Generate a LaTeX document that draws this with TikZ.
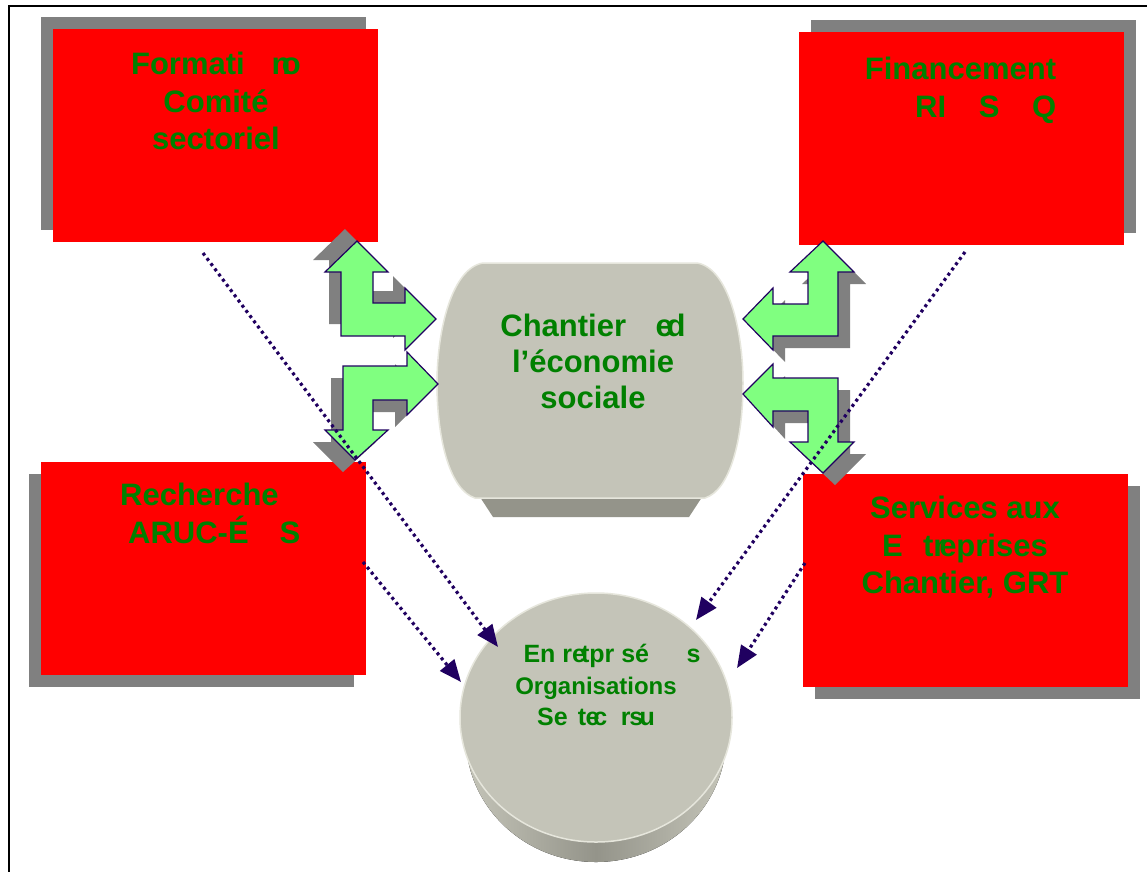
\documentclass[tikz,border=0pt]{standalone}
\usepackage{fontspec}
\setmainfont{Liberation Sans}
\usetikzlibrary{shapes.geometric,shadows,arrows.meta,positioning}

\definecolor{rouge}{RGB}{255,0,0}
\definecolor{vert}{RGB}{0,128,0}
\definecolor{vertclair}{RGB}{128,255,128}
\definecolor{ombre}{RGB}{128,128,128}
\definecolor{marine}{RGB}{32,0,96}
\definecolor{pierre}{RGB}{196,196,184}
\definecolor{pierrefonce}{RGB}{148,148,138}
\definecolor{pierreclair}{RGB}{230,230,220}

% fleches coudees (sommets en px, y vers le bas)
\newcommand{\flecheHG}{(357,241) -- (388,272) -- (373,272) -- (373,303) -- (405,303) -- (405,288) -- (436,319) -- (405,350) -- (405,336) -- (341,336) -- (341,272) -- (325,272) -- cycle}
\newcommand{\flecheBG}{(343,366) -- (407,366) -- (407,352) -- (438,384) -- (407,415) -- (407,400) -- (373,400) -- (373,430) -- (388,430) -- (355,460) -- (325,430) -- (343,430) -- cycle}
\newcommand{\flecheHD}{(823,241) -- (854,272) -- (838,272) -- (838,336) -- (773,336) -- (773,350) -- (743,319) -- (773,288) -- (773,304) -- (808,304) -- (808,272) -- (790,272) -- cycle}
\newcommand{\flecheBD}{(743,394) -- (773,364) -- (773,378) -- (838,378) -- (838,442) -- (854,442) -- (823,473) -- (790,442) -- (808,442) -- (808,411) -- (773,411) -- (773,427) -- cycle}

\begin{document}
\begin{tikzpicture}[x=1pt,y=-1pt,
  boite/.style={rectangle,fill=rouge,minimum width=325pt,minimum height=213pt,inner sep=0pt},
  txt/.style={text=vert,font=\bfseries\fontsize{31}{37.5}\selectfont,inner sep=0pt,align=center},
  fleche/.style={fill=vertclair,draw=marine,line width=1.2pt,line join=miter},
  pointille/.style={marine,line width=3.2pt,dash pattern=on 3pt off 3.5pt,-{Triangle[length=22pt,width=18pt]}}]
\useasboundingbox (0,0) rectangle (1147,871);
\fill[white] (0,0) rectangle (1147,871);
\draw[line width=2pt] (9,880) -- (9,6) -- (1160,6);

% les quatre boites
\node[boite,drop shadow={shadow xshift=-12pt,shadow yshift=12pt,fill=ombre,opacity=1}] (form) at (215.5,135.5) {};
\node[boite,drop shadow={shadow xshift=12pt,shadow yshift=12pt,fill=ombre,opacity=1}] (fin) at (961.5,138) {};
\node[boite,drop shadow={shadow xshift=-12pt,shadow yshift=-12pt,fill=ombre,opacity=1}] (rech) at (203.5,568) {};
\node[boite,drop shadow={shadow xshift=12pt,shadow yshift=-12pt,fill=ombre,opacity=1}] (serv) at (965.5,580) {};

\node[txt,anchor=north] (form-t) at (216,52) {Formati\hspace{0.87em}n\kern-0.28em o\\Comité\\sectoriel};
\node[txt,anchor=north,align=right] (fin-t) at (960.5,57) {Financement\\RI\hspace{1.05em}S\hspace{1.05em}Q};
\node[txt,anchor=north west,align=left] (rech-t) at (120,483) {Recherche\\\hspace*{8pt}ARUC-É\hspace{1em}S};
\node[txt,anchor=north] (serv-t) at (965,496) {Services aux\\E\hspace{0.65em}tr\kern-0.2em eprises\\Chantier, GRT};

% chantier
\fill[pierrefonce] (478,494) -- (704,494) -- (689,517) -- (493,517) -- cycle;
\draw[pierreclair,line width=1.5pt,fill=pierre] (483,263) -- (697,263) .. controls (728,268) and (743,330) .. (743,383) .. controls (743,440) and (730,490) .. (705,498) -- (475,498) .. controls (450,490) and (437,440) .. (437,383) .. controls (437,330) and (452,268) .. (483,263) -- cycle;
\node[txt,anchor=north,font=\bfseries\fontsize{31}{36}\selectfont] (chant-t) at (593,314) {Chantier\hspace{0.95em}e\kern-0.2em d\\l’économie\\sociale};

% entreprises
\fill[left color=pierre,right color=pierre,middle color=pierrefonce] (596,738) ellipse [x radius=130pt,y radius=124pt];
\node[ellipse,fill=pierre,draw=pierreclair,line width=1.5pt,minimum width=272pt,minimum height=249pt,inner sep=0pt] (entr) at (596,717.5) {};
\node[txt,anchor=north,font=\bfseries\fontsize{25}{31.5}\selectfont] (entr-t) at (596,644) {\hspace*{32pt}En re\kern-0.2em tpr sé\hspace{1.5em}s\\{\fontsize{24}{31}\selectfont Organisations}\\Se\hspace{0.4em}t\kern-0.02em e\kern-0.25em c\hspace{0.55em}r\kern-0.05em s\kern-0.15em u};

% fleches vertes
\fill[ombre,shift={(-12,-12)}] \flecheHG;
\fill[ombre,shift={(-12,12)}] \flecheBG;
\fill[ombre,shift={(12,12)}] \flecheHD;
\fill[ombre,shift={(12,12)}] \flecheBD;
\draw[fleche] \flecheHG;
\draw[fleche] \flecheBG;
\draw[fleche] \flecheHD;
\draw[fleche] \flecheBD;

% liens pointilles
\coordinate (form-p) at (203,253);
\coordinate (entr-a) at (498,647);
\coordinate (rech-p) at (363,562);
\coordinate (entr-b) at (461,682);
\coordinate (fin-p) at (965,252);
\coordinate (entr-c) at (696,620);
\coordinate (serv-p) at (805,563);
\coordinate (entr-d) at (737,668);
\draw[pointille] (form-p) -- (entr-a);
\draw[pointille] (rech-p) -- (entr-b);
\draw[pointille] (fin-p) -- (entr-c);
\draw[pointille] (serv-p) -- (entr-d);
\end{tikzpicture}
\end{document}
